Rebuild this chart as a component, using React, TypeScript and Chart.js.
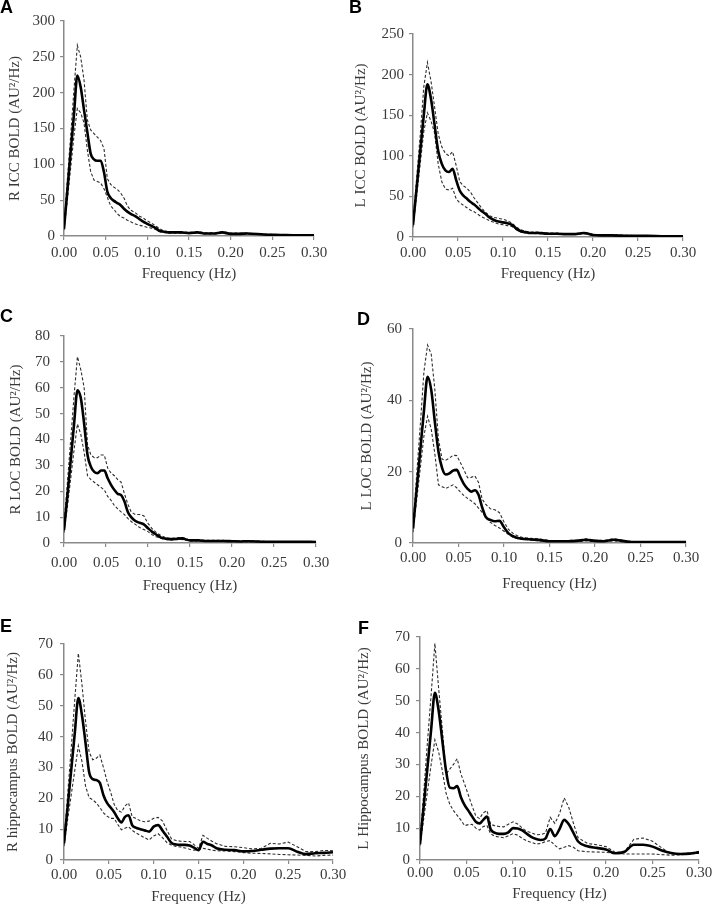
import React, { useEffect, useRef } from "react";
import { Chart, registerables } from "chart.js";

Chart.register(...registerables);

// ---------------- DATA ----------------
const FREQ_AD = [0, 0.004, 0.008, 0.012, 0.016, 0.02, 0.024, 0.028, 0.032, 0.036, 0.04, 0.044, 0.048, 0.052, 0.056, 0.06, 0.064, 0.068, 0.072, 0.076, 0.08,
  0.085, 0.09, 0.095, 0.1, 0.105, 0.11, 0.115, 0.12, 0.125, 0.13,
  0.14, 0.15, 0.16, 0.17, 0.18, 0.19, 0.2, 0.21, 0.22, 0.24, 0.26, 0.28, 0.3];

const FREQ_EF = [0, 0.004, 0.008, 0.012, 0.016, 0.02, 0.024, 0.028, 0.032, 0.036, 0.04, 0.044, 0.048, 0.052, 0.056, 0.06, 0.064, 0.068, 0.072, 0.076, 0.08,
  0.085, 0.09, 0.095, 0.1, 0.105, 0.11, 0.115, 0.12, 0.125, 0.13, 0.135, 0.14, 0.145, 0.15, 0.155, 0.16, 0.165, 0.17,
  0.18, 0.19, 0.2, 0.21, 0.22, 0.23, 0.24, 0.25, 0.26, 0.27, 0.28, 0.29, 0.3];

const A_MEAN = [10, 63, 118, 170, 224, 208, 176, 145, 115, 107, 105, 105, 89, 62, 53, 49, 46, 43, 38, 34, 31,
  28, 24, 20, 17, 14, 11, 7, 6, 5, 5,
  5, 4, 5, 3.5, 3.5, 5, 3, 3, 3.5, 2, 1.5, 1, 1];
const A_UPPER = [15, 78, 140, 205, 266, 250, 218, 162, 148, 143, 138, 133, 122, 80, 72, 68, 65, 60, 53, 42, 36,
  33, 28, 25, 21, 18, 14, 10, 7, 6, 6,
  6, 5, 6, 4.5, 4.5, 6, 4, 4, 4, 2.5, 2, 1.5, 1.5];
const A_LOWER = [8, 50, 95, 140, 178, 172, 158, 120, 90, 78, 76, 74, 66, 54, 42, 37, 31, 27, 25, 22, 20,
  17, 15, 14, 12, 11, 9, 7, 5, 4, 4,
  4, 3.5, 4, 3, 3, 4, 2.5, 2.5, 3, 1.5, 1, 0.8, 0.8];

const B_MEAN = [15, 60, 105, 150, 188, 170, 138, 106, 90, 82, 80, 84, 70, 57, 51, 47, 43, 40, 36, 32, 29,
  24, 21, 19, 18, 17, 15, 10, 7, 6, 5,
  5, 4, 4, 3.5, 3.5, 5, 2.5, 2, 2, 1.5, 1.5, 1, 1];
const B_UPPER = [18, 72, 125, 185, 215, 192, 160, 127, 111, 103, 100, 105, 88, 68, 63, 60, 55, 48, 42, 36, 31,
  26, 24, 23, 22, 20, 17, 12, 9, 7, 6,
  6, 5, 5, 4, 4, 6, 3, 2.5, 2.5, 2, 1.5, 1.2, 1.2];
const B_LOWER = [12, 50, 90, 130, 153, 143, 128, 90, 68, 59, 58, 60, 47, 42, 39, 36, 33, 31, 28, 25, 23,
  20, 18, 16, 15, 14, 13, 9, 6, 5, 4.5,
  4, 3.5, 3.5, 3, 3, 4, 2, 1.5, 1.5, 1, 1, 0.8, 0.8];

const C_MEAN = [5, 18, 32, 46, 59, 56, 46, 34, 29.5, 27.5, 27, 28, 28, 25, 22.5, 20.5, 19, 18.5, 16, 12, 10,
  8.5, 7.8, 7.2, 5.7, 4.3, 3.2, 2.2, 1.7, 1.5, 1.5,
  1.8, 1, 1, 0.8, 0.8, 0.8, 0.7, 0.6, 0.7, 0.5, 0.5, 0.5, 0.4];
const C_UPPER = [7, 23, 40, 57, 72, 67, 60, 38, 34, 33, 33, 34, 34, 29, 27, 26, 24.5, 23.5, 19, 15, 12,
  11, 11, 10.5, 7.6, 5.5, 4, 3, 2.2, 1.8, 1.8,
  2.2, 1.2, 1.2, 1, 1, 1, 0.9, 0.8, 0.9, 0.6, 0.6, 0.6, 0.5];
const C_LOWER = [4, 14, 25, 36, 46, 42, 35, 26, 24.5, 23.5, 22.5, 21.5, 20.5, 18, 16.5, 14.5, 13.2, 12, 11, 9.5, 8.3,
  7.2, 6, 5.2, 4.4, 3.2, 2.4, 1.8, 1.4, 1.2, 1.2,
  1.4, 0.8, 0.8, 0.6, 0.6, 0.6, 0.5, 0.5, 0.5, 0.4, 0.4, 0.4, 0.3];

const D_MEAN = [4, 15, 26, 37, 46.6, 43, 34, 25.6, 21, 19.2, 19.5, 20.3, 20.5, 18.5, 16.5, 15.2, 14.4, 14.8, 13.5, 10, 7.3,
  6.5, 6.1, 6.2, 4.4, 2.7, 1.9, 1.4, 1.2, 1.1, 1,
  0.8, 0.5, 0.5, 0.5, 0.6, 0.9, 0.6, 0.5, 0.9, 0.3, 0.3, 0.3, 0.3];
const D_UPPER = [5, 19, 33, 48, 55.5, 53, 43, 29, 23.5, 23.2, 23.8, 24.6, 24.5, 22.6, 20.5, 18.3, 18.4, 18.8, 17, 12.3, 10.8,
  9.6, 9.3, 8.5, 5.9, 3.8, 2.7, 2, 1.6, 1.4, 1.3,
  1.1, 0.7, 0.7, 0.7, 0.8, 1.2, 0.8, 0.7, 1.2, 0.4, 0.4, 0.4, 0.4];
const D_LOWER = [3, 12, 21, 30, 35.5, 32, 25, 16.3, 15.8, 15.3, 15.8, 16.3, 15.5, 14.3, 13.3, 12.5, 11.8, 11, 9.8, 8.6, 7.2,
  5.8, 4.9, 4.2, 3.3, 2.4, 1.6, 1.2, 1, 0.9, 0.8,
  0.6, 0.4, 0.4, 0.4, 0.4, 0.6, 0.4, 0.4, 0.6, 0.2, 0.2, 0.2, 0.2];

const E_MEAN = [5.4, 17, 29, 41, 52.5, 47, 38, 28.5, 26.2, 25.9, 25, 21, 18.5, 17, 15.5, 13.5, 12.2, 14, 14.5, 11.3, 10.5,
  10, 9.6, 9.2, 10.8, 11.3, 9.5, 7.5, 5.5, 5, 4.9, 4.9, 4.7, 4, 3.2, 5.9, 5.2, 4.7, 3.8,
  3.3, 3.2, 2.8, 2.9, 3.3, 3.7, 3.8, 3.8, 2.7, 1.9, 2.2, 2.3, 2.5];
const E_UPPER = [6, 21, 36, 52, 67, 57, 45, 35, 32.5, 33, 34, 30, 25.5, 22, 18, 16, 15.5, 17.5, 18.5, 14, 13.5,
  12.7, 12.4, 12.6, 13.5, 13.8, 12.6, 9.5, 6.8, 6.3, 6.1, 6, 6, 5, 3.8, 8, 7, 6.1, 5.3,
  4.4, 4.3, 4, 3.6, 3.8, 5.4, 5.2, 5.8, 4.3, 2.7, 2.7, 3.1, 3];
const E_LOWER = [4.5, 13, 21, 29, 37, 32, 24, 20.2, 19.5, 18.5, 17, 15.3, 14.2, 13.5, 13.5, 11.5, 9.8, 10.3, 10.8, 9.6, 8.8,
  8, 7.2, 6.5, 7.8, 8.5, 7.2, 5.6, 4.8, 4.4, 4.2, 3.9, 3.5, 3.2, 3.4, 3.8, 3.5, 3.2, 3,
  2.9, 2.7, 2.4, 2.2, 2.1, 2, 1.8, 1.7, 1.6, 1.5, 1.3, 1.5, 1.6];

const F_MEAN = [5, 17, 29, 41, 52.5, 47, 37.5, 28, 22.7, 22.5, 23.2, 19.7, 17.2, 15.5, 13.7, 12, 11.5, 12.6, 13.6, 9.6, 8.6,
  8.2, 8.2, 8.7, 10, 9.9, 9.3, 8.2, 7.2, 6.6, 6.3, 6.8, 9.7, 7.5, 9.7, 12.6, 11.2, 8.5, 5.8,
  4.3, 3.8, 3.3, 2.1, 2.6, 4.8, 4.8, 4.2, 3, 2.2, 1.9, 2, 2.4];
const F_UPPER = [6, 21, 37, 52, 68, 54, 41, 27, 28.5, 30, 31.8, 27, 23.8, 20.4, 17, 13.8, 13, 14.8, 15.5, 11.2, 10.8,
  10.5, 10.4, 11.2, 12, 11.3, 10, 9, 8.5, 7.9, 8, 8.5, 13.4, 11.5, 14.5, 19.5, 16.5, 11.5, 7,
  5.2, 4.8, 4.2, 2.4, 2.6, 6.5, 6.9, 5.9, 3.8, 1.9, 1.9, 2.2, 2.7];
const F_LOWER = [4.5, 13, 21.5, 30, 37.7, 34, 28, 21, 17.5, 15.5, 14, 12.5, 10.8, 11.1, 11.2, 10, 9.4, 10.5, 10.8, 8.2, 7.5,
  7.2, 7, 7.6, 8.3, 7.8, 6.8, 6, 5.5, 5, 5.2, 5.8, 6.1, 4.6, 3.5, 4, 4.5, 4, 2.9,
  2.6, 2.5, 2.4, 2.1, 1.9, 1.9, 1.9, 1.9, 1.7, 1.5, 1.6, 1.9, 2.1];

const PANEL_LETTERS = ["A", "B", "C", "D", "E", "F"];
const Y_TITLES = [
  "R ICC BOLD (AU\u00B2/Hz)",
  "L ICC BOLD (AU\u00B2/Hz)",
  "R LOC BOLD (AU\u00B2/Hz)",
  "L LOC BOLD (AU\u00B2/Hz)",
  "R hippocampus BOLD (AU\u00B2/Hz)",
  "L Hippocampus BOLD (AU\u00B2/Hz)",
];
const X_TITLE = "Frequency (Hz)";
const Y_MAX = [300, 250, 80, 60, 70, 70];
const Y_STEP = [50, 50, 10, 20, 10, 10];
const X_MAX = 0.3;
const X_STEP = 0.05;

const SERIES = [
  { freq: FREQ_AD, mean: A_MEAN, upper: A_UPPER, lower: A_LOWER },
  { freq: FREQ_AD, mean: B_MEAN, upper: B_UPPER, lower: B_LOWER },
  { freq: FREQ_AD, mean: C_MEAN, upper: C_UPPER, lower: C_LOWER },
  { freq: FREQ_AD, mean: D_MEAN, upper: D_UPPER, lower: D_LOWER },
  { freq: FREQ_EF, mean: E_MEAN, upper: E_UPPER, lower: E_LOWER },
  { freq: FREQ_EF, mean: F_MEAN, upper: F_UPPER, lower: F_LOWER },
];

// ---------------- LAYOUT ----------------
type Layout = {
  L: number; T: number; W: number; H: number;
  yW: number; padTop: number; padRight: number; xH: number;
  xTitlePad: number; yTitlePad: number; yTickPad: number; xTickPad: number;
  letterX: number; letterY: number;
};

const LAYOUTS: Layout[] = [
  { L: 0, T: 0, W: 356, H: 295, yW: 64, padTop: 21, padRight: 42, xH: 59, xTitlePad: 12, yTitlePad: 6, yTickPad: 5, xTickPad: 4, letterX: 0, letterY: -2 },
  { L: 346, T: 0, W: 366, H: 295, yW: 67, padTop: 34, padRight: 29, xH: 58, xTitlePad: 12, yTitlePad: 6, yTickPad: 5, xTickPad: 3, letterX: 349, letterY: -2 },
  { L: 0, T: 300, W: 356, H: 300, yW: 64, padTop: 36, padRight: 40, xH: 57, xTitlePad: 5, yTitlePad: 7, yTickPad: 10, xTickPad: 7, letterX: 0, letterY: 307 },
  { L: 356, T: 300, W: 356, H: 300, yW: 57, padTop: 29, padRight: 26, xH: 57, xTitlePad: 7, yTitlePad: 2, yTickPad: 7, xTickPad: 2, letterX: 357, letterY: 310 },
  { L: 0, T: 605, W: 356, H: 301, yW: 64, padTop: 39, padRight: 23, xH: 46, xTitlePad: 0, yTitlePad: 4, yTickPad: 7, xTickPad: 2, letterX: 0, letterY: 617 },
  { L: 356, T: 605, W: 356, H: 301, yW: 64, padTop: 32, padRight: 13, xH: 46, xTitlePad: 3, yTitlePad: -1, yTickPad: 6, xTickPad: 0, letterX: 358, letterY: 619 },
];

const SERIF = '"Liberation Serif", "Times New Roman", serif';
const TEXT_COLOR = "#3a3a3a";
const AXIS_COLOR = "#8a8a8a";

function Panel({ idx }: { idx: number }) {
  const ref = useRef<HTMLCanvasElement>(null);
  const lay = LAYOUTS[idx];

  useEffect(() => {
    const s = SERIES[idx];
    const toPts = (arr: number[]) => s.freq.map((f, i) => ({ x: f, y: arr[i] }));
    const font = { family: SERIF, size: 15, lineHeight: 1.2 };
    const chart = new Chart(ref.current as HTMLCanvasElement, {
      type: "line",
      data: {
        datasets: [
          {
            label: "mean",
            data: toPts(s.mean),
            borderColor: "#000",
            borderWidth: 2.6,
            pointRadius: 0,
            cubicInterpolationMode: "monotone",
            fill: false,
          },
          {
            label: "upper",
            data: toPts(s.upper),
            borderColor: "#2e2e2e",
            borderWidth: 1.1,
            borderDash: [3, 2],
            pointRadius: 0,
            tension: 0,
            fill: false,
          },
          {
            label: "lower",
            data: toPts(s.lower),
            borderColor: "#2e2e2e",
            borderWidth: 1.1,
            borderDash: [3, 2],
            pointRadius: 0,
            tension: 0,
            fill: false,
          },
        ],
      },
      options: {
        animation: false,
        responsive: true,
        maintainAspectRatio: false,
        layout: { padding: { top: lay.padTop, right: lay.padRight, left: 0, bottom: 0 } },
        plugins: { legend: { display: false }, tooltip: { enabled: false } },
        events: [],
        scales: {
          x: {
            type: "linear",
            min: 0,
            max: X_MAX,
            ticks: {
              stepSize: X_STEP,
              callback: (v: any) => Number(v).toFixed(2),
              font,
              color: TEXT_COLOR,
              padding: lay.xTickPad,
              maxRotation: 0,
              autoSkip: false,
            },
            grid: { display: true, drawOnChartArea: false, drawTicks: true, tickLength: 4, color: AXIS_COLOR, lineWidth: 1.2 },
            border: { display: true, color: AXIS_COLOR, width: 1.5 },
            title: { display: true, text: X_TITLE, font, color: TEXT_COLOR, padding: { top: 0, bottom: lay.xTitlePad } },
            afterFit: (sc: any) => {
              sc.height = lay.xH;
              sc.paddingLeft = 0;
              sc.paddingRight = 0;
            },
          },
          y: {
            type: "linear",
            min: 0,
            max: Y_MAX[idx],
            ticks: { stepSize: Y_STEP[idx], font, color: TEXT_COLOR, padding: lay.yTickPad },
            grid: { display: true, drawOnChartArea: false, drawTicks: true, tickLength: 4, color: AXIS_COLOR, lineWidth: 1.2 },
            border: { display: true, color: AXIS_COLOR, width: 1.5 },
            title: { display: true, text: Y_TITLES[idx], font, color: TEXT_COLOR, padding: { top: lay.yTitlePad, bottom: 0 } },
            afterFit: (sc: any) => {
              sc.width = lay.yW;
              sc.paddingTop = 0;
              sc.paddingBottom = 0;
            },
          },
        },
      } as any,
    });
    return () => chart.destroy();
  }, [idx]);

  return (
    <div style={{ position: "absolute", left: lay.L, top: lay.T, width: lay.W, height: lay.H }}>
      <canvas ref={ref} />
    </div>
  );
}

export default function App() {
  return (
    <div style={{ position: "fixed", left: 0, top: 0, width: 712, height: 906, background: "#fff", overflow: "hidden" }}>
      {LAYOUTS.map((_, i) => (
        <Panel key={i} idx={i} />
      ))}
      {PANEL_LETTERS.map((l, i) => (
        <div
          key={l}
          style={{
            position: "absolute",
            left: LAYOUTS[i].letterX,
            top: LAYOUTS[i].letterY,
            fontFamily: '"Liberation Sans", Arial, sans-serif',
            fontWeight: "bold",
            fontSize: 18,
            lineHeight: "18px",
            color: "#000",
          }}
        >
          {l}
        </div>
      ))}
    </div>
  );
}
